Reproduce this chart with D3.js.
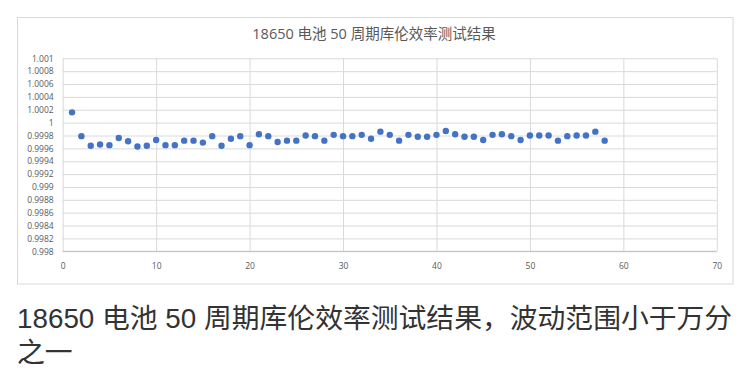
<!DOCTYPE html>
<html>
<head>
<meta charset="utf-8">
<script src="https://cdn.jsdelivr.net/npm/d3@7"></script>
<style>
html,body{margin:0;padding:0;background:#fff;}
svg{display:block;}
</style>
</head>
<body>
<svg id="chart" width="754" height="374"></svg>
<script>
const chartTitle = "18650 电池 50 周期库伦效率测试结果";
const captionLines = ["18650 电池 50 周期库伦效率测试结果，波动范围小于万分", "之一"];
const cycles = d3.range(1, 59);
const efficiency = [
  1.00016, 0.99979, 0.99964, 0.99966, 0.99965, 0.99976, 0.99971, 0.99963, 0.99964, 0.99973,
  0.99965, 0.99965, 0.99972, 0.99972, 0.99969, 0.99979, 0.99964, 0.99975, 0.99979, 0.99965,
  0.99982, 0.99979, 0.99970, 0.99972, 0.99972, 0.99980, 0.99979, 0.99972, 0.99981, 0.99979,
  0.99979, 0.99981, 0.99975, 0.99986, 0.99981, 0.99972, 0.99981, 0.99978, 0.99978, 0.99981,
  0.99987, 0.99982, 0.99978, 0.99978, 0.99973, 0.99981, 0.99982, 0.99979, 0.99973, 0.99980,
  0.99980, 0.99980, 0.99972, 0.99979, 0.99980, 0.99980, 0.99986, 0.99972
];
const xTicks = [0, 10, 20, 30, 40, 50, 60, 70];
const yTicks = [0.998, 0.9982, 0.9984, 0.9986, 0.9988, 0.999, 0.9992, 0.9994, 0.9996, 0.9998, 1, 1.0002, 1.0004, 1.0006, 1.0008, 1.001];
const yTickLabels = ["0.998","0.9982","0.9984","0.9986","0.9988","0.999","0.9992","0.9994","0.9996","0.9998","1","1.0002","1.0004","1.0006","1.0008","1.001"];

const svg = d3.select("#chart");
const plot = {left: 62.7, right: 716.8, top: 58.3, bottom: 251.3};
const x = d3.scaleLinear().domain([0, 70]).range([plot.left, plot.right]);
const y = d3.scaleLinear().domain([0.998, 1.001]).range([plot.bottom, plot.top]);

// chart frame
svg.append("rect").attr("x", 17.5).attr("y", 17.5).attr("width", 715.5).attr("height", 266.5)
  .attr("fill", "#fff").attr("stroke", "#d9d9d9").attr("stroke-width", 1);

// title
svg.append("text").attr("x", 374).attr("y", 39).attr("text-anchor", "middle")
  .attr("font-family", "'Open Sans','Noto Sans CJK SC',sans-serif").attr("font-size", 14.5)
  .attr("fill", "#595959").text(chartTitle);

const tickFont = "'Open Sans','Noto Sans',sans-serif";
// y axis
const yAxis = d3.axisLeft(y).tickValues(yTicks).tickSize(-(plot.right - plot.left))
  .tickFormat((d, i) => yTickLabels[i]).tickPadding(9);
const gy = svg.append("g").attr("transform", `translate(${plot.left},0)`).call(yAxis);
gy.select(".domain").remove();
gy.selectAll(".tick line").attr("stroke", "#d9d9d9");
gy.selectAll(".tick text").attr("font-family", tickFont).attr("font-size", 8.5).attr("fill", "#595959");

// x axis
const xAxis = d3.axisBottom(x).tickValues(xTicks).tickSize(-(plot.bottom - plot.top)).tickPadding(12);
const gx = svg.append("g").attr("transform", `translate(0,${plot.bottom})`).call(xAxis);
gx.select(".domain").remove();
gx.selectAll(".tick line").attr("stroke", "#d9d9d9");
gx.selectAll(".tick text").attr("font-family", tickFont).attr("font-size", 8.5).attr("fill", "#595959");

// bottom axis line
svg.append("line").attr("x1", plot.left).attr("x2", plot.right).attr("y1", y(0.998)).attr("y2", y(0.998))
  .attr("stroke", "#bfbfbf");

// points
svg.append("g").selectAll("circle").data(cycles).join("circle")
  .attr("cx", (d) => x(d)).attr("cy", (d, i) => y(efficiency[i])).attr("r", 3.2)
  .attr("fill", "#4472c4");

// caption
const cap = svg.append("text").attr("font-family", "'Liberation Sans','Noto Sans CJK SC',sans-serif")
  .attr("font-size", 27.8).attr("fill", "#333");
captionLines.forEach((t, i) => {
  cap.append("tspan").attr("x", 17).attr("y", 328 + i * 34).text(t);
});
</script>
</body>
</html>
